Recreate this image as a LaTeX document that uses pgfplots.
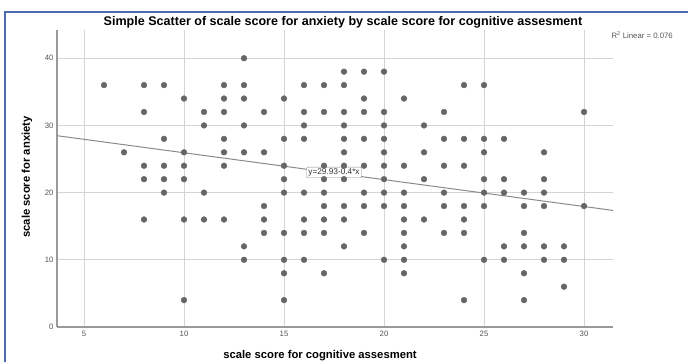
\documentclass[border=0pt]{standalone}
\usepackage{pgfplots}
\pgfplotsset{compat=1.18}
\usepackage{fontspec}
\setmainfont{Liberation Sans}
\definecolor{dotc}{HTML}{666666}
\definecolor{gridc}{HTML}{D4D4D4}
\definecolor{axisc}{HTML}{9A9A9A}
\definecolor{tickc}{HTML}{555555}
\definecolor{linec}{HTML}{8A8A8A}
\definecolor{framec}{HTML}{4A6BB0}
\begin{document}
\begin{tikzpicture}[x=1bp,y=1bp]
\useasboundingbox (0,0) rectangle (688,362);
\draw[framec, line width=1.5bp] (5,0) -- (5,350) -- (688,350);
\begin{axis}[
  at={(57bp,35bp)}, anchor=south west,
  scale only axis, width=556bp, height=297bp,
  xmin=3.65, xmax=31.45, ymin=0, ymax=44.2,
  axis x line*=bottom, axis y line*=left,
  axis line style={axisc, line width=1.2bp},
  xtick={5,10,15,20,25,30}, ytick={0,10,20,30,40},
  major tick length=0pt,
  grid=major, major grid style={gridc, line width=0.9bp},
  /pgf/number format/assume math mode=true,
  tick label style={font=\fontsize{7.8}{8}\selectfont, text=tickc},
  xticklabel style={yshift=-1bp},
  clip=false,
]
\addplot[only marks, mark=*, mark size=2.9pt, mark options={fill=dotc, draw=dotc}] table {
x y
6 36
7 26
8 36
8 32
8 24
8 22
8 16
9 36
9 28
9 24
9 22
9 20
10 34
10 26
10 24
10 22
10 16
10 4
11 32
11 30
11 20
11 16
12 36
12 34
12 32
12 28
12 26
12 24
12 16
13 40
13 36
13 34
13 30
13 26
13 12
13 10
14 32
14 26
14 18
14 16
14 14
15 34
15 28
15 24
15 22
15 20
15 14
15 10
15 8
15 4
16 36
16 32
16 30
16 28
16 20
16 16
16 14
16 10
17 36
17 32
17 24
17 22
17 20
17 18
17 16
17 14
17 8
18 38
18 36
18 32
18 30
18 28
18 26
18 24
18 22
18 18
18 16
18 12
19 38
19 34
19 32
19 28
19 24
19 20
19 18
19 14
20 38
20 32
20 30
20 28
20 26
20 24
20 22
20 20
20 18
20 10
21 34
21 24
21 20
21 18
21 16
21 14
21 12
21 10
21 8
22 30
22 26
22 22
22 16
23 32
23 28
23 24
23 20
23 18
23 14
24 36
24 28
24 24
24 18
24 16
24 14
24 4
25 36
25 28
25 26
25 22
25 20
25 18
25 10
26 28
26 22
26 20
26 12
26 10
27 20
27 18
27 14
27 12
27 8
27 4
28 26
28 22
28 20
28 18
28 12
28 10
29 12
29 10
29 6
30 32
30 18
};
\addplot[linec, line width=1bp] coordinates {(3.65,28.47) (31.45,17.35)};
\node[draw=linec, fill=white, rounded corners=1bp, inner sep=1.6bp, font=\fontsize{8.3}{9}\selectfont, text=black!80] at (axis cs:17.5,23.0) {y=29.93-0.4*x};
\end{axis}
\node[font=\bfseries\fontsize{12.6}{14}\selectfont] at (343,340) {Simple Scatter of scale score for anxiety by scale score for cognitive assesment};
\node[anchor=west, font=\fontsize{7.8}{8}\selectfont, text=tickc] at (608,327) {R\textsuperscript{2} Linear = 0.076};
\node[rotate=90, font=\bfseries\fontsize{11.3}{13}\selectfont] at (27,185) {scale score for anxiety};
\node[anchor=base, font=\bfseries\fontsize{11.3}{13}\selectfont] at (320,4) {scale score for cognitive assesment};
\end{tikzpicture}
\end{document}
